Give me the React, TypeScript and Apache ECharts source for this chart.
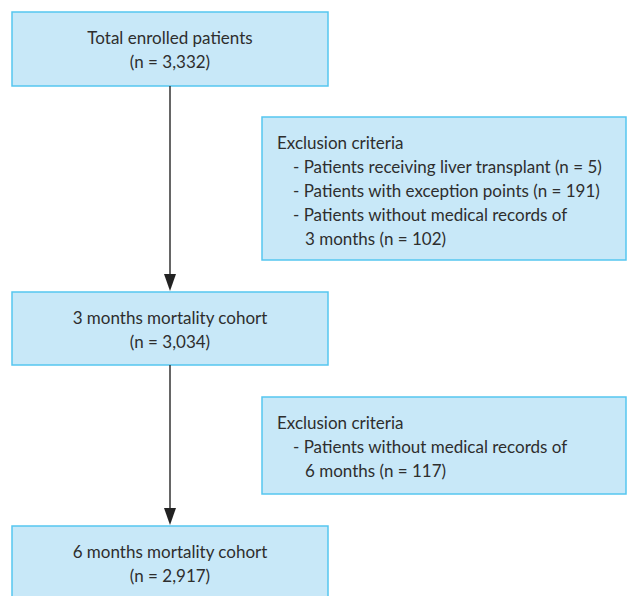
import React, { useEffect, useRef } from "react";
import * as echarts from "echarts";

const mainBoxes = [
  ["Total enrolled patients", "(n = 3,332)"],
  ["3 months mortality cohort", "(n = 3,034)"],
  ["6 months mortality cohort", "(n = 2,917)"],
];
const mainBoxTops = [12, 292, 526];
const mainBoxHeights = [74, 73, 80];

const exclTitle = "Exclusion criteria";
const excl1 = [
  ["- Patients receiving liver transplant (n = 5)", 0],
  ["- Patients with exception points (n = 191)", 0],
  ["- Patients without medical records of", 0],
  ["3 months (n = 102)", 1],
];
const excl2 = [
  ["- Patients without medical records of", 0],
  ["6 months (n = 117)", 1],
];
const exclTops = [117, 397];
const exclHeights = [143, 97];

const FILL = "#c8e8f8";
const BORDER = "#55c6f0";
const TEXT = "#2e2e2e";
const FONT = "17px Lato";

export default function App() {
  const ref = useRef<HTMLDivElement>(null);
  useEffect(() => {
    const chart = echarts.init(ref.current!, null, { renderer: "svg" });
    const els: any[] = [];
    const mx = 12, mw = 316, cx = 170;
    mainBoxes.forEach((lines, i) => {
      const top = mainBoxTops[i];
      els.push({
        type: "rect",
        shape: { x: mx, y: top, width: mw, height: mainBoxHeights[i] },
        style: { fill: FILL, stroke: BORDER, lineWidth: 1.5 },
      });
      lines.forEach((t, j) => {
        els.push({
          type: "text",
          x: cx,
          y: top + 25 + j * 24,
          style: { text: t, font: FONT, fill: TEXT, align: "center", verticalAlign: "middle" },
        });
      });
    });
    const exclSets = [excl1, excl2];
    exclSets.forEach((items, i) => {
      const top = exclTops[i];
      els.push({
        type: "rect",
        shape: { x: 262, y: top, width: 364, height: exclHeights[i] },
        style: { fill: FILL, stroke: BORDER, lineWidth: 1.5 },
      });
      els.push({
        type: "text",
        x: 277,
        y: top + 25,
        style: { text: exclTitle, font: FONT, fill: TEXT, align: "left", verticalAlign: "middle" },
      });
      items.forEach((it, j) => {
        const [t, indent] = it as [string, number];
        els.push({
          type: "text",
          x: indent ? 305 : 293,
          y: top + 25 + (j + 1) * 24,
          style: { text: t, font: FONT, fill: TEXT, align: "left", verticalAlign: "middle" },
        });
      });
    });
    for (let i = 0; i < 2; i++) {
      const y0 = mainBoxTops[i] + mainBoxHeights[i];
      const y1 = mainBoxTops[i + 1] - 1;
      els.push({
        type: "line",
        shape: { x1: cx, y1: y0, x2: cx, y2: y1 - 14 },
        style: { stroke: "#333", lineWidth: 1.5 },
      });
      els.push({
        type: "polygon",
        shape: { points: [[cx - 6, y1 - 17], [cx + 6, y1 - 17], [cx, y1]] },
        style: { fill: "#222" },
      });
    }
    chart.setOption({ animation: false, graphic: { elements: els } });
    return () => chart.dispose();
  }, []);
  return (
    <div
      ref={ref}
      style={{ position: "fixed", left: 0, top: 0, width: 627, height: 596, background: "#fff" }}
    />
  );
}
